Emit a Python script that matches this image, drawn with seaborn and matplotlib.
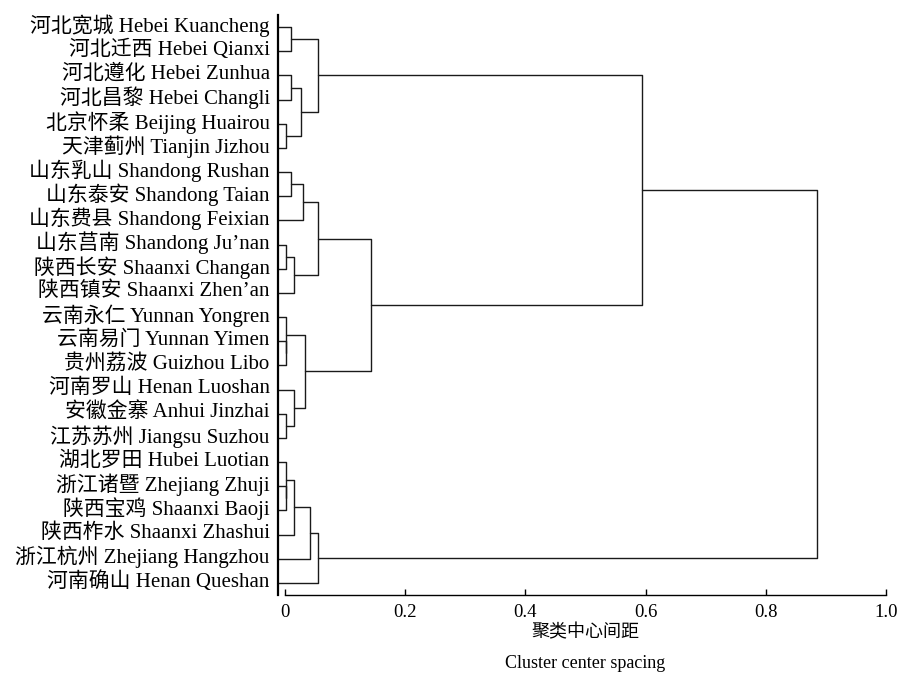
import numpy as np
import pandas as pd
import matplotlib
matplotlib.use("Agg")
import matplotlib.pyplot as plt
import matplotlib.transforms as mtransforms
import seaborn as sns

# ---- data ----
sites_cn = ["河北宽城", "河北迁西", "河北遵化", "河北昌黎", "北京怀柔", "天津蓟州",
            "山东乳山", "山东泰安", "山东费县", "山东莒南", "陕西长安", "陕西镇安",
            "云南永仁", "云南易门", "贵州荔波", "河南罗山", "安徽金寨", "江苏苏州",
            "湖北罗田", "浙江诸暨", "陕西宝鸡", "陕西柞水", "浙江杭州", "河南确山"]
sites_en = ["Hebei Kuancheng", "Hebei Qianxi", "Hebei Zunhua", "Hebei Changli",
            "Beijing Huairou", "Tianjin Jizhou", "Shandong Rushan", "Shandong Taian",
            "Shandong Feixian", "Shandong Ju\u2019nan", "Shaanxi Changan", "Shaanxi Zhen\u2019an",
            "Yunnan Yongren", "Yunnan Yimen", "Guizhou Libo", "Henan Luoshan",
            "Anhui Jinzhai", "Jiangsu Suzhou", "Hubei Luotian", "Zhejiang Zhuji",
            "Shaanxi Baoji", "Shaanxi Zhashui", "Zhejiang Hangzhou", "Henan Queshan"]

# linkage (ids >= 24 refer to earlier merges: 24 + merge index)
merge_left = [4, 13, 19, 12, 18, 9, 16, 0, 2, 6, 29, 15, 28, 32, 33, 27, 36, 38, 31, 40, 41, 42, 45]
merge_right = [5, 14, 20, 25, 26, 10, 17, 1, 3, 7, 11, 30, 21, 24, 8, 35, 22, 34, 37, 23, 39, 44, 43]
merge_dist = [0.001, 0.001, 0.001, 0.002, 0.002, 0.002, 0.002, 0.010, 0.010, 0.010,
              0.014, 0.014, 0.014, 0.026, 0.030, 0.033, 0.042, 0.054, 0.055, 0.054,
              0.143, 0.595, 0.885]

x_ticks = [0, 0.2, 0.4, 0.6, 0.8, 1.0]
x_tick_labels = ["0", "0.2", "0.4", "0.6", "0.8", "1.0"]
xlabel_cn = "聚类中心间距"
xlabel_en = "Cluster center spacing"

# ---- build dendrogram segments ----
labels = [f"{c} {e}" for c, e in zip(sites_cn, sites_en)]
n = len(labels)
LEAF_X = -0.012
pos_x = {i: LEAF_X for i in range(n)}
pos_y = {i: float(i) for i in range(n)}
rows = []
for k, (a, b, d) in enumerate(zip(merge_left, merge_right, merge_dist)):
    pts = [(pos_x[a], pos_y[a]), (d, pos_y[a]), (d, pos_y[b]), (pos_x[b], pos_y[b])]
    for j, (x, y) in enumerate(pts):
        rows.append({"seg": k, "order": j, "x": x, "y": y})
    pos_x[n + k] = d
    pos_y[n + k] = (pos_y[a] + pos_y[b]) / 2
df = pd.DataFrame(rows)

# ---- plot ----
sns.set_theme(style="white")
plt.rcParams["font.family"] = ["Liberation Serif", "Noto Sans CJK SC"]

fig = plt.figure(figsize=(9.01, 6.77), dpi=100)
ax = fig.add_axes([278 / 901, 82 / 677, (885.7 - 278) / 901, (595 - 15) / 677])

sns.lineplot(data=df, x="x", y="y", units="seg", estimator=None, sort=False,
             color="#1a1a1a", linewidth=1.0, ax=ax, legend=False)

ax.set_xlim(LEAF_X, 1.0)
ax.set_ylim(n - 0.5, -0.5)
ax.set_xticks(x_ticks)
ax.set_xticklabels(x_tick_labels)
ax.set_yticks(range(n))
ax.set_yticklabels(labels)
ax.set_xlabel("")
ax.set_ylabel("")

for s in ["top", "right"]:
    ax.spines[s].set_visible(False)
ax.spines["left"].set_color("black")
ax.spines["left"].set_linewidth(1.6)
ax.spines["bottom"].set_color("black")
ax.spines["bottom"].set_linewidth(1.0)
ax.spines["bottom"].set_bounds(0, 1.0)

ax.tick_params(axis="x", bottom=True, direction="in", length=4, width=1.0,
               pad=6.5, labelsize=13.5, colors="black")
ax.tick_params(axis="y", left=False, length=0, pad=6, labelsize=15, labelcolor="black")

offset = mtransforms.ScaledTranslation(0, 4 / 100, fig.dpi_scale_trans)
for lab in ax.get_yticklabels():
    lab.set_transform(lab.get_transform() + offset)

cx = (278 + 7 + 885.7) / 2 / 901
fig.text(cx, 1 - 633 / 677, xlabel_cn, ha="center", va="center", fontsize=13, color="black")
fig.text(cx, 1 - 664 / 677, xlabel_en, ha="center", va="center", fontsize=13, color="black")

fig.savefig("out.png", dpi=100)
